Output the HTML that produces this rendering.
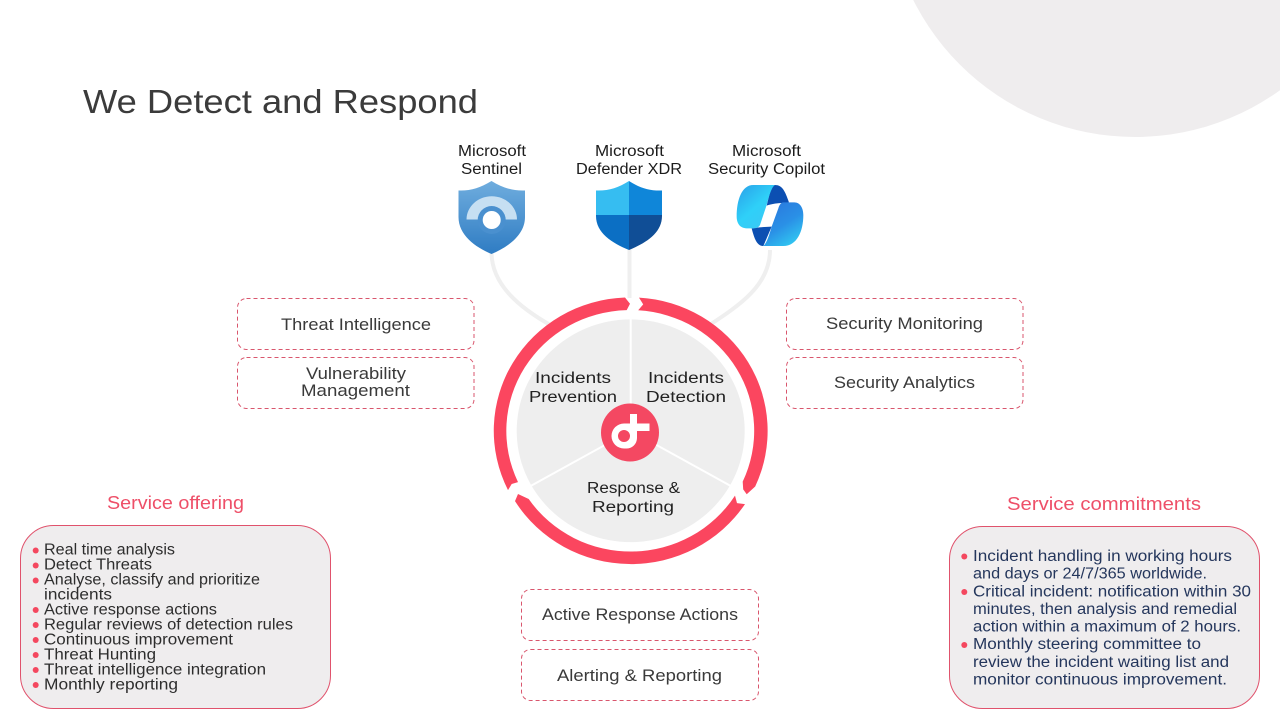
<!DOCTYPE html>
<html lang="en">
<head>
<meta charset="utf-8">
<title>We Detect and Respond</title>
<style>
html,body{margin:0;padding:0;background:#fff;width:1280px;height:720px;overflow:hidden}
svg{display:block}
text{font-family:"Liberation Sans",sans-serif;}
.c{fill:#1c1c1c;font-size:15.5px}
.m{fill:#222;font-size:15.5px}
.b{fill:#3a3a3a;font-size:16.5px}
.h{fill:#ee4f68;font-size:18px}
.l{fill:#2d2d2d;font-size:15.5px}
.r{fill:#24365c;font-size:15.5px}
</style>
</head>
<body>
<svg width="1280" height="720" viewBox="0 0 1280 720" xmlns="http://www.w3.org/2000/svg">
<defs>
<linearGradient id="sg" x1="0" y1="0" x2="0" y2="1"><stop offset="0" stop-color="#6fadde"/><stop offset="1" stop-color="#2f7cc3"/></linearGradient>
<linearGradient id="cg1" x1="0" y1="0" x2=".8" y2="1"><stop offset="0" stop-color="#2a9fe8"/><stop offset=".55" stop-color="#2fd0f8"/><stop offset="1" stop-color="#3cc8f5"/></linearGradient>
<linearGradient id="cg2" x1="0" y1="0" x2=".6" y2="1"><stop offset="0" stop-color="#2b74dc"/><stop offset=".6" stop-color="#2a90e6"/><stop offset="1" stop-color="#30c2f0"/></linearGradient>
<clipPath id="dc"><path d="M629 181C618 188 608 191 596 190.500L596 216C596 233 612 243 629 250C646 243 662 233 662 216L662 190.500C650 191 640 188 629 181Z"/></clipPath>
</defs>

<circle cx="1135" cy="-111" r="248" fill="#efedee"/>

<text x="83" y="113" textLength="395" lengthAdjust="spacingAndGlyphs" style="font-size:33px;fill:#3b3b3b">We Detect and Respond</text>

<text x="458" y="156" textLength="68" lengthAdjust="spacingAndGlyphs" class="c">Microsoft</text>
<text x="461" y="174" textLength="61" lengthAdjust="spacingAndGlyphs" class="c">Sentinel</text>
<text x="595" y="156" textLength="69" lengthAdjust="spacingAndGlyphs" class="c">Microsoft</text>
<text x="576" y="174" textLength="106" lengthAdjust="spacingAndGlyphs" class="c">Defender XDR</text>
<text x="732" y="156" textLength="69" lengthAdjust="spacingAndGlyphs" class="c">Microsoft</text>
<text x="708" y="174" textLength="117" lengthAdjust="spacingAndGlyphs" class="c">Security Copilot</text>

<!-- connectors -->
<g fill="none" stroke="#efefef" stroke-width="4">
<path d="M491.500 252C491.500 285 520 308 552 326"/>
<path d="M629.500 248V298"/>
<path d="M770 250C770 285 740 305 708 326"/>
</g>

<!-- icons -->
<path d="M491.500 181C480 188 470 191 458.500 190.500L458.500 217C458.500 235 475 247 491.500 254C508 247 525 235 525 217L525 190.500C513 191 503 188 491.500 181Z" fill="url(#sg)"/>
<path d="M466.500 219.500A25 23 0 0 1 517 219.500Z" fill="#c6dff2"/>
<circle cx="491.700" cy="220" r="14" fill="#4a90cf"/>
<circle cx="491.700" cy="220" r="9" fill="#fff"/>

<g clip-path="url(#dc)">
<rect x="590" y="178" width="39" height="37" fill="#36bdf1"/>
<rect x="629" y="178" width="39" height="37" fill="#0f86d9"/>
<rect x="590" y="215" width="39" height="40" fill="#0b6fc4"/>
<rect x="629" y="215" width="39" height="40" fill="#104e96"/>
</g>

<g transform="translate(725 175) scale(.3333)">
<path d="M140 30L150 30C172 30 180 48 192 82L170 84C150 85 135 88 125 92Z" fill="#0c4fb2"/>
<path d="M80 160L103 157L140 155L115 213C95 213 88 190 80 160Z" fill="#0c4fb2"/>
<path d="M85 30L150 30C140 36 133 60 125 90L105 150C101 157 95 160 85 160L65 160C45 160 35 145 35 125C35 75 50 30 85 30Z" fill="url(#cg1)"/>
<path d="M175 82L208 82C226 82 235 100 235 120C235 170 215 213 175 213L115 213C125 205 133 180 140 155L160 100C163 90 168 82 175 82Z" fill="url(#cg2)"/>
</g>

<!-- wheel -->
<g transform="translate(630.700 430.800) scale(1 .977)">
<circle r="114" fill="#eeeeee"/>
<g stroke="#fff" stroke-width="2">
<path d="M0 0V-116"/>
<path d="M0 0L-101 57"/>
<path d="M0 0L101 57"/>
</g>
<g fill="#fb465f">
<path d="M8.300 -136.300A136.600 136.600 0 0 1 124.500 57L116 65L112.500 60L112 52A123.600 123.600 0 0 0 7.500 -123.400L12.500 -129.400Z"/>
<path d="M114.300 75A136.600 136.600 0 0 1 -115.700 72L-112.700 64.700L-102 69.800A123.600 123.600 0 0 0 104.300 66.300L106.300 74Z"/>
<path d="M-122.700 60.700A136.600 136.600 0 0 1 -5.700 -136.500L-0.700 -130L-4 -123.500A123.600 123.600 0 0 0 -112.700 52.500L-119 54.500Z"/>
</g>
</g>

<!-- logo -->
<circle cx="630" cy="432.500" r="29" fill="#f44862"/>
<path fill-rule="evenodd" fill="#fff" d="M630 414H637V423.500H649.500V431H637V438A10.500 10.500 0 0 1 626 448.500H624A12.500 12.500 0 0 1 624 423.500H630ZM624 430A6 6 0 1 0 624 442A6 6 0 0 0 630 436A6 6 0 0 0 624 430Z"/>

<text x="535" y="383" textLength="76" lengthAdjust="spacingAndGlyphs" class="m">Incidents</text>
<text x="529" y="402" textLength="88" lengthAdjust="spacingAndGlyphs" class="m">Prevention</text>
<text x="648" y="383" textLength="76" lengthAdjust="spacingAndGlyphs" class="m">Incidents</text>
<text x="646" y="402" textLength="80" lengthAdjust="spacingAndGlyphs" class="m">Detection</text>
<text x="587" y="493" textLength="93" lengthAdjust="spacingAndGlyphs" class="m">Response &amp;</text>
<text x="592" y="512" textLength="82" lengthAdjust="spacingAndGlyphs" class="m">Reporting</text>

<!-- dashed boxes -->
<g fill="#fff" stroke="#d9566d" stroke-width="1" stroke-dasharray="4 3">
<rect x="237.500" y="298.500" width="236.500" height="51" rx="9"/>
<rect x="237.500" y="357.500" width="236.500" height="51" rx="9"/>
<rect x="786.500" y="298.500" width="236.500" height="51" rx="9"/>
<rect x="786.500" y="357.500" width="236.500" height="51" rx="9"/>
<rect x="521.500" y="589.500" width="237" height="51" rx="9"/>
<rect x="521.500" y="649.500" width="237" height="51" rx="9"/>
</g>
<text x="281" y="330" textLength="150" lengthAdjust="spacingAndGlyphs" class="b">Threat Intelligence</text>
<text x="306" y="379" textLength="100" lengthAdjust="spacingAndGlyphs" class="b">Vulnerability</text>
<text x="301" y="396" textLength="109" lengthAdjust="spacingAndGlyphs" class="b">Management</text>
<text x="826" y="329" textLength="157" lengthAdjust="spacingAndGlyphs" class="b">Security Monitoring</text>
<text x="834" y="388" textLength="141" lengthAdjust="spacingAndGlyphs" class="b">Security Analytics</text>
<text x="542" y="620" textLength="196" lengthAdjust="spacingAndGlyphs" class="b">Active Response Actions</text>
<text x="557" y="681" textLength="165" lengthAdjust="spacingAndGlyphs" class="b">Alerting &amp; Reporting</text>

<!-- panels -->
<text x="107" y="509" textLength="137" lengthAdjust="spacingAndGlyphs" class="h">Service offering</text>
<text x="1007" y="510" textLength="194" lengthAdjust="spacingAndGlyphs" class="h">Service commitments</text>
<rect x="20.500" y="525.500" width="310" height="183" rx="33" fill="#efedee" stroke="#e0526c" stroke-width="1"/>
<rect x="949.500" y="526.500" width="310" height="182" rx="33" fill="#efedee" stroke="#e0526c" stroke-width="1"/>

<g fill="#f4485f">
<circle cx="35.700" cy="550.500" r="3"/><circle cx="35.700" cy="565.500" r="3"/><circle cx="35.700" cy="580.500" r="3"/>
<circle cx="35.700" cy="610" r="3"/><circle cx="35.700" cy="625" r="3"/><circle cx="35.700" cy="640" r="3"/>
<circle cx="35.700" cy="655" r="3"/><circle cx="35.700" cy="670" r="3"/><circle cx="35.700" cy="685" r="3"/>
<circle cx="964.300" cy="556.500" r="3"/><circle cx="964.300" cy="592" r="3"/><circle cx="964.300" cy="645" r="3"/>
</g>

<text x="44" y="554.500" textLength="131" lengthAdjust="spacingAndGlyphs" class="l">Real time analysis</text>
<text x="44" y="569.500" textLength="108" lengthAdjust="spacingAndGlyphs" class="l">Detect Threats</text>
<text x="44" y="584.500" textLength="216" lengthAdjust="spacingAndGlyphs" class="l">Analyse, classify and prioritize</text>
<text x="44" y="599.500" textLength="68" lengthAdjust="spacingAndGlyphs" class="l">incidents</text>
<text x="44" y="614.500" textLength="173" lengthAdjust="spacingAndGlyphs" class="l">Active response actions</text>
<text x="44" y="629.500" textLength="249" lengthAdjust="spacingAndGlyphs" class="l">Regular reviews of detection rules</text>
<text x="44" y="644.500" textLength="189" lengthAdjust="spacingAndGlyphs" class="l">Continuous improvement</text>
<text x="44" y="659.500" textLength="112" lengthAdjust="spacingAndGlyphs" class="l">Threat Hunting</text>
<text x="44" y="674.500" textLength="222" lengthAdjust="spacingAndGlyphs" class="l">Threat intelligence integration</text>
<text x="44" y="689.500" textLength="134" lengthAdjust="spacingAndGlyphs" class="l">Monthly reporting</text>

<text x="973" y="561" textLength="259" lengthAdjust="spacingAndGlyphs" class="r">Incident handling in working hours</text>
<text x="973" y="578.500" textLength="234" lengthAdjust="spacingAndGlyphs" class="r">and days or 24/7/365 worldwide.</text>
<text x="973" y="596.500" textLength="278" lengthAdjust="spacingAndGlyphs" class="r">Critical incident: notification within 30</text>
<text x="973" y="614" textLength="264" lengthAdjust="spacingAndGlyphs" class="r">minutes, then analysis and remedial</text>
<text x="973" y="631.500" textLength="268" lengthAdjust="spacingAndGlyphs" class="r">action within a maximum of 2 hours.</text>
<text x="973" y="649" textLength="228" lengthAdjust="spacingAndGlyphs" class="r">Monthly steering committee to</text>
<text x="973" y="667" textLength="256" lengthAdjust="spacingAndGlyphs" class="r">review the incident waiting list and</text>
<text x="973" y="684.500" textLength="254" lengthAdjust="spacingAndGlyphs" class="r">monitor continuous improvement.</text>
</svg>
</body>
</html>
